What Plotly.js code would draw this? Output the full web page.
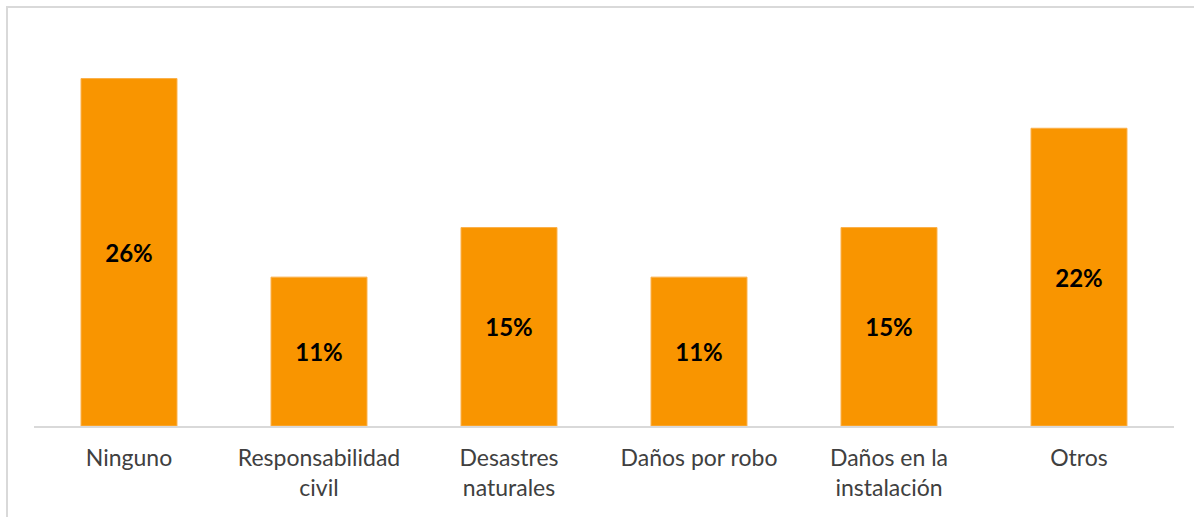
<!DOCTYPE html>
<html>
<head>
<meta charset="utf-8">
<script src="https://cdn.plot.ly/plotly-3.0.1.min.js"></script>
<style>
  html, body { margin: 0; padding: 0; background: #fff; }
  #wrap { position: relative; width: 1194px; height: 517px; overflow: hidden; }
  #chart { position: absolute; left: 0; top: 0; width: 1194px; height: 517px; }
  #frame { position: absolute; left: 6px; top: 6px; width: 1200px; height: 520px;
           border-top: 2px solid #D9D9D9; border-left: 2px solid #D9D9D9; pointer-events: none; }
</style>
</head>
<body>
<div id="wrap">
  <div id="chart"></div>
  <div id="frame"></div>
</div>
<script>
const categories = ["Ninguno", "Responsabilidad<br>civil", "Desastres<br>naturales", "Daños por robo", "Daños en la<br>instalación", "Otros"];
const values = [25.93, 11.11, 14.81, 11.11, 14.81, 22.22];
const labels = values.map(v => Math.round(v) + "%");

const trace = {
  type: "bar",
  x: categories,
  y: values,
  text: labels,
  textposition: "inside",
  insidetextanchor: "middle",
  textangle: 0,
  textfont: { family: "Lato, 'Open Sans', sans-serif", size: 24, color: "#000000", weight: "bold" },
  marker: { color: "#F99500", line: { color: "#FBB04A", width: 1 } },
  hoverinfo: "none"
};

const layout = {
  width: 1194,
  height: 517,
  margin: { l: 34, r: 20, t: 24, b: 91 },
  paper_bgcolor: "#ffffff",
  plot_bgcolor: "#ffffff",
  bargap: 0.495,
  showlegend: false,
  xaxis: {
    showline: true,
    linecolor: "#D9D9D9",
    linewidth: 2,
    ticks: "",
    tickfont: { family: "Lato, 'Open Sans', sans-serif", size: 23, color: "#404040" },
    ticklabelstandoff: 10,
    showgrid: false,
    zeroline: false,
    fixedrange: true
  },
  yaxis: {
    range: [0, 30],
    visible: false,
    showgrid: false,
    zeroline: false,
    fixedrange: true
  }
};

Plotly.newPlot("chart", [trace], layout, { displayModeBar: false, staticPlot: true });
</script>
</body>
</html>
